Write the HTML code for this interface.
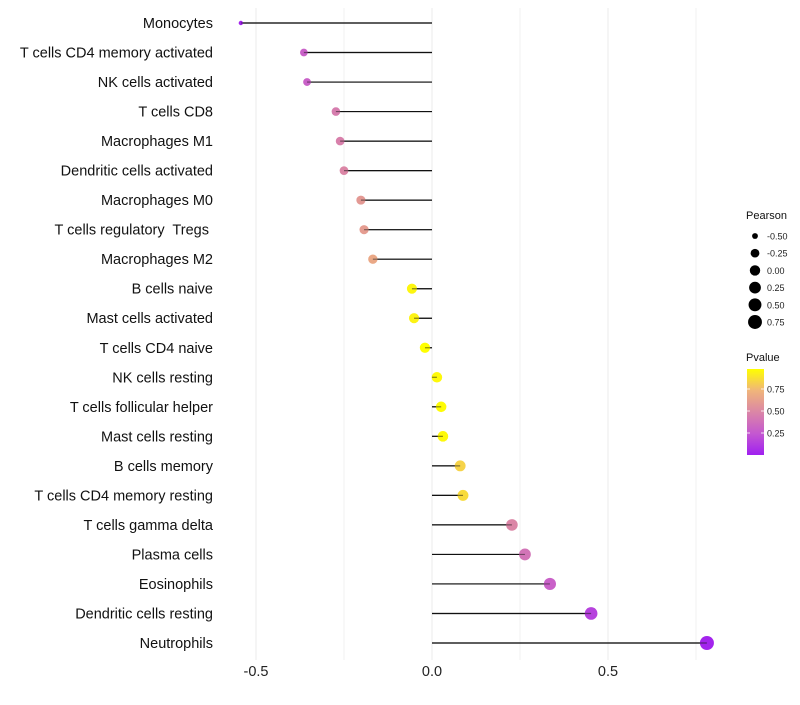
<!DOCTYPE html>
<html><head><meta charset="utf-8"><style>
body{margin:0;background:#fff;font-family:"Liberation Sans",sans-serif;}
svg text{font-family:"Liberation Sans",sans-serif;white-space:pre;}
</style></head><body>
<svg id="chart" width="800" height="700"></svg>
<script>
const categories=["Monocytes","T cells CD4 memory activated","NK cells activated","T cells CD8","Macrophages M1","Dendritic cells activated","Macrophages M0","T cells regulatory  Tregs ","Macrophages M2","B cells naive","Mast cells activated","T cells CD4 naive","NK cells resting","T cells follicular helper","Mast cells resting","B cells memory","T cells CD4 memory resting","T cells gamma delta","Plasma cells","Eosinophils","Dendritic cells resting","Neutrophils"];
const pearson=[-0.543,-0.364,-0.355,-0.273,-0.261,-0.25,-0.202,-0.193,-0.168,-0.057,-0.051,-0.02,0.014,0.026,0.031,0.08,0.088,0.227,0.264,0.335,0.452,0.781];
const pvalues=[0.02,0.3,0.3,0.45,0.47,0.5,0.6,0.62,0.68,0.97,0.96,1.0,0.98,0.99,0.98,0.85,0.88,0.5,0.4,0.3,0.15,0.02];
const xTicks=[-0.5,0,0.5];
const xMinor=[-0.25,0.25,0.75];
const sizeLegend=[-0.5,-0.25,0,0.25,0.5,0.75];
const pTicks=[0.25,0.5,0.75];

const NS="http://www.w3.org/2000/svg";
const svg=document.getElementById('chart');
const X=v=>432+v*352;
const Y=i=>23+i*(620/21);
const R=v=>2+5*Math.sqrt(Math.max(0,(v+0.545)/1.326));
const stops=[[0,[160,32,240]],[0.25,[196,88,208]],[0.5,[219,134,166]],[0.75,[240,181,122]],[1,[255,255,0]]];
function col(p){for(let k=1;k<stops.length;k++){if(p<=stops[k][0]){const a=stops[k-1],b=stops[k];const t=(p-a[0])/(b[0]-a[0]);return 'rgb('+a[1].map((c,j)=>Math.round(c+(b[1][j]-c)*t)).join(',')+')';}}return 'rgb(255,255,0)';}
function el(t,a,p){const e=document.createElementNS(NS,t);for(const k in a)e.setAttribute(k,a[k]);(p||svg).appendChild(e);return e;}

xMinor.forEach(v=>{const l=el('line',{x1:X(v),x2:X(v),y1:8,y2:660,stroke:'#f2f2f2','stroke-width':1});

});
xTicks.forEach(v=>{const l=el('line',{x1:X(v),x2:X(v),y1:8,y2:660,stroke:'#ebebeb','stroke-width':1});


const t=el('text',{x:X(v),y:676,'text-anchor':'middle','font-size':14.5,fill:'#222'});t.textContent=v===0?'0.0':String(v);

});

categories.forEach((c,i)=>{
const t=el('text',{x:213,y:Y(i)+5,'text-anchor':'end','font-size':14.5,fill:'#111'});t.textContent=c;


const l=el('line',{x1:X(0),x2:X(pearson[i]),y1:Y(i),y2:Y(i),stroke:'#111','stroke-width':1.2});


const d=el('circle',{cx:X(pearson[i]),cy:Y(i),r:R(pearson[i]),fill:col(pvalues[i])});


});
categories.forEach((c,i)=>{
const l=el('line',{x1:X(0),x2:X(pearson[i]),y1:Y(i),y2:Y(i),stroke:'#111','stroke-width':1.2,'stroke-opacity':0.5});


});

const lt=el('text',{x:746,y:219,'font-size':11,fill:'#111'});lt.textContent='Pearson';


sizeLegend.forEach((v,k)=>{const y=236+k*17.2;
const c=el('circle',{cx:755,cy:y,r:R(v),fill:'#000'});


const t=el('text',{x:767,y:y+3.5,'font-size':9,fill:'#222'});t.textContent=v.toFixed(2);

});
const pt=el('text',{x:746,y:361,'font-size':11,fill:'#111'});pt.textContent='Pvalue';


const defs=el('defs',{});const g=el('linearGradient',{id:'pg',x1:0,y1:1,x2:0,y2:0},defs);
stops.forEach(s=>el('stop',{offset:s[0],'stop-color':'rgb('+s[1].join(',')+')'},g));
const bar=el('rect',{x:747,y:369,width:17,height:86,fill:'url(#pg)'});


pTicks.forEach(p=>{const y=455-p*88;
el('line',{x1:747,x2:750,y1:y,y2:y,stroke:'#fff','stroke-width':0.8});
el('line',{x1:761,x2:764,y1:y,y2:y,stroke:'#fff','stroke-width':0.8});
const t=el('text',{x:767,y:y+3.5,'font-size':9,fill:'#222'});t.textContent=p.toFixed(2);

});
</script>
</body></html>
